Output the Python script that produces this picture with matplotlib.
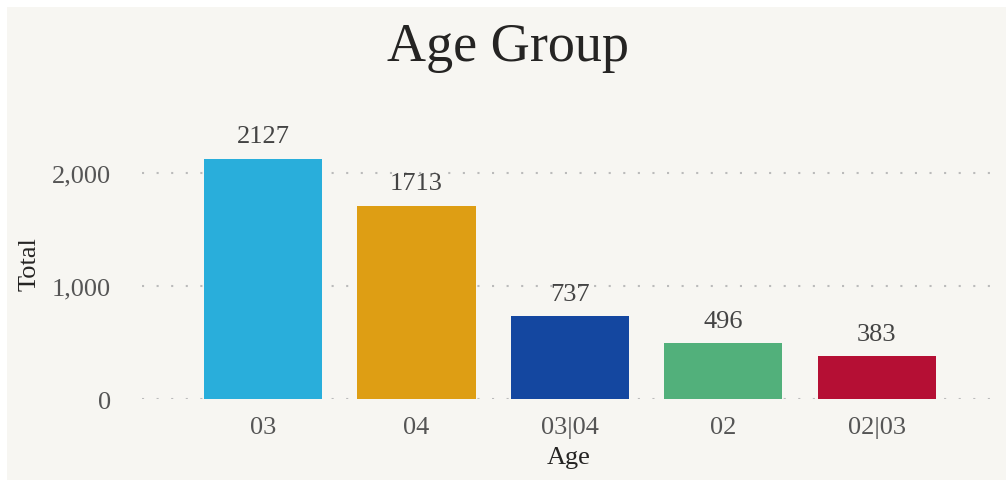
import matplotlib.pyplot as plt
from matplotlib.patches import Rectangle
from matplotlib.ticker import FuncFormatter

ages = ["03", "04", "03|04", "02", "02|03"]
totals = [2127, 1713, 737, 496, 383]
colors = ["#29AEDB", "#DE9E14", "#1447A0", "#52B07B", "#B50F34"]
yticks = [0, 1000, 2000]

plt.rcParams['font.family'] = ['Liberation Serif', 'DejaVu Serif']

bg = "#F7F6F2"
fig = plt.figure(figsize=(10.06, 4.81), dpi=100, facecolor="white")
fig.patches.append(Rectangle((7 / 1006, 0), 1, 1 - 8 / 481, transform=fig.transFigure,
                             facecolor=bg, edgecolor="none", zorder=-10))

ax = fig.add_axes([0.141, 0.168, 0.848, 0.564])
ax.set_facecolor(bg)
ax.patch.set_alpha(0)

x = range(len(ages))
bars = ax.bar(x, totals, width=0.77, color=colors, zorder=3)
for b, v in zip(bars, totals):
    ax.text(b.get_x() + b.get_width() / 2, v + 100, str(v), ha="center", va="bottom",
            fontsize=19, color="#444444")

ax.set_xlim(-0.79, 4.77)
ax.set_ylim(0, 2400)
ax.set_xticks(list(x))
ax.set_xticklabels(ages)
ax.set_yticks(yticks)
ax.yaxis.set_major_formatter(FuncFormatter(lambda v, p: f"{int(v):,}"))
ax.tick_params(axis="both", length=0, labelsize=19, labelcolor="#555555")
ax.tick_params(axis="y", pad=22)
ax.tick_params(axis="x", pad=12)

ax.grid(axis="y", color="#BBBBBB", linestyle=(0, (1, 6)), linewidth=1.5, zorder=0)
for s in ax.spines.values():
    s.set_visible(False)

ax.set_xlabel("Age", fontsize=19, color="#252423", labelpad=6)
ax.set_ylabel("Total", fontsize=19, color="#252423", labelpad=8)

fig.text(0.505, 0.9, "Age Group", ha="center", va="center", fontsize=39, color="#252423")

fig.savefig("out.png", dpi=100, facecolor=fig.get_facecolor())
